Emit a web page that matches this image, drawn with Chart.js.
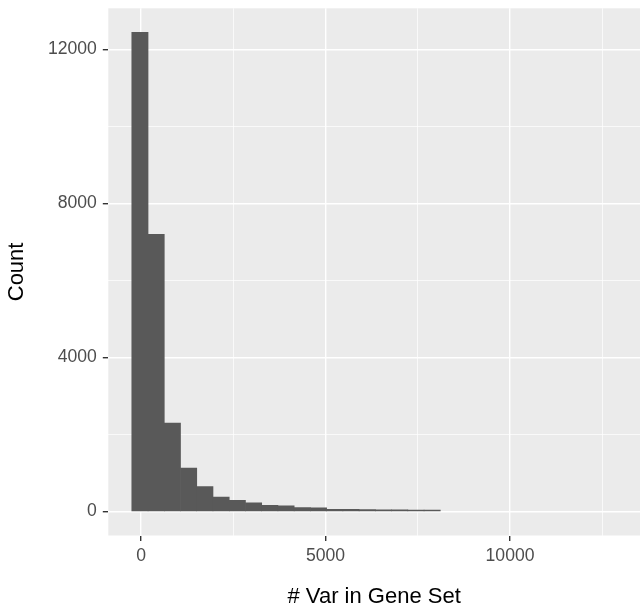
<!DOCTYPE html>
<html>
<head>
<meta charset="utf-8">
<script src="https://cdn.jsdelivr.net/npm/chart.js@4.4.0/dist/chart.umd.min.js"></script>
<style>
  body { margin: 0; background: #fff; }
  canvas { display: block; }
</style>
</head>
<body>
<canvas id="histChart" width="640" height="611"></canvas>
<script>
// Histogram bins (centers, width ~440) and counts
const binCenters = [-30, 410, 850, 1290, 1730, 2170, 2610, 3050, 3490, 3930,
  4370, 4810, 5250, 5690, 6130, 6570, 7010, 7450, 7890, 8330,
  8770, 9210, 9650, 10090, 10530, 10970, 11410, 11850, 12290, 12730];
const binCounts = [12450, 7200, 2300, 1130, 650, 375, 290, 225, 160, 150,
  105, 95, 60, 55, 50, 45, 45, 40, 40, 0,
  0, 0, 0, 0, 0, 0, 0, 0, 0, 0];

// axis breaks (labelled) and minor grid lines
const xBreaks = [0, 5000, 10000];
const xMinor = [2500, 7500, 12500];
const yBreaks = [0, 4000, 8000, 12000];
const yMinor = [2000, 6000, 10000];

const FONT = 'Liberation Sans, Arial, sans-serif';

// grey panel behind the grid, like ggplot's theme_grey
const panelBg = {
  id: 'panelBg',
  beforeDraw(chart) {
    const a = chart.chartArea;
    const ctx = chart.ctx;
    ctx.save();
    ctx.fillStyle = '#EBEBEB';
    ctx.fillRect(a.left, a.top, a.right - a.left, a.bottom - a.top);
    ctx.restore();
  }
};

function allTicks(major, minor) {
  return major.concat(minor).sort((a, b) => a - b).map(v => ({ value: v }));
}

function isMajor(c, breaks) {
  return !!c.tick && breaks.includes(c.tick.value);
}

const ctx = document.getElementById('histChart').getContext('2d');
new Chart(ctx, {
  type: 'bar',
  data: {
    datasets: [{
      data: binCenters.map((c, i) => ({ x: c, y: binCounts[i] })),
      backgroundColor: '#595959',
      borderWidth: 0,
      barPercentage: 1,
      categoryPercentage: 1,
      // no sliver for empty bins
      inflateAmount: c => (c.raw && c.raw.y > 0) ? 'auto' : 0
    }]
  },
  options: {
    responsive: false,
    animation: false,
    layout: { padding: { top: 8.3, right: 0, bottom: 0, left: 0 } },
    plugins: {
      legend: { display: false },
      tooltip: { enabled: false }
    },
    scales: {
      x: {
        type: 'linear',
        offset: false,
        min: -887,
        max: 13522,
        afterBuildTicks: s => { s.ticks = allTicks(xBreaks, xMinor); },
        afterFit: s => { s.height = 75.5; s.paddingLeft = 0; s.paddingRight = 0; },
        ticks: {
          autoSkip: false,
          maxRotation: 0,
          padding: 5,
          color: '#4D4D4D',
          font: { family: FONT, size: 17.6 },
          callback: v => xBreaks.includes(v) ? String(v) : ''
        },
        grid: {
          offset: false,
          color: '#FFFFFF',
          lineWidth: c => isMajor(c, xBreaks) ? 1.4 : 0.7,
          tickLength: 5.5,
          tickWidth: 1.4,
          tickColor: c => isMajor(c, xBreaks) ? '#333333' : 'rgba(0,0,0,0)'
        },
        border: { display: false },
        title: {
          display: true,
          text: '# Var in Gene Set',
          color: '#000000',
          font: { family: FONT, size: 22, lineHeight: 1 },
          padding: { top: 0, bottom: 3.5 }
        }
      },
      y: {
        type: 'linear',
        min: -622,
        max: 13072,
        afterBuildTicks: s => { s.ticks = allTicks(yBreaks, yMinor); },
        afterFit: s => { s.width = 108.3; s.paddingTop = 0; s.paddingBottom = 0; },
        ticks: {
          autoSkip: false,
          padding: 6,
          color: '#4D4D4D',
          font: { family: FONT, size: 17.6 },
          callback: v => yBreaks.includes(v) ? String(v) : ''
        },
        grid: {
          color: '#FFFFFF',
          lineWidth: c => isMajor(c, yBreaks) ? 1.4 : 0.7,
          tickLength: 5.5,
          tickWidth: 1.4,
          tickColor: c => isMajor(c, yBreaks) ? '#333333' : 'rgba(0,0,0,0)'
        },
        border: { display: false },
        title: {
          display: true,
          text: 'Count',
          color: '#000000',
          font: { family: FONT, size: 22, lineHeight: 1 },
          padding: { top: 6, bottom: 0 }
        }
      }
    }
  },
  plugins: [panelBg]
});
</script>
</body>
</html>
